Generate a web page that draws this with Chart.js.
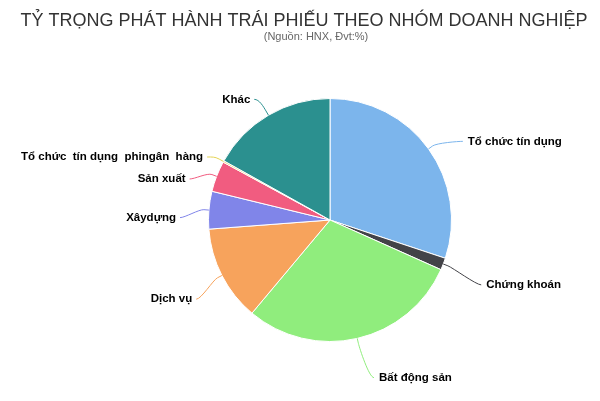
<!DOCTYPE html>
<html>
<head>
<meta charset="utf-8">
<script src="https://cdn.jsdelivr.net/npm/chart.js@4.4.1/dist/chart.umd.min.js"></script>
<style>
  html, body { margin: 0; padding: 0; background: #ffffff; }
  #wrap { position: relative; width: 600px; height: 401px; }
</style>
</head>
<body>
<div id="wrap"><canvas id="c"></canvas></div>
<script>
// ---- data ----
const titleText = "TỶ TRỌNG PHÁT HÀNH TRÁI PHIẾU THEO NHÓM DOANH NGHIỆP";
const subtitleText = "(Nguồn: HNX, Đvt:%)";
const categories = [
  "Tổ chức tín dụng",
  "Chứng khoán",
  "Bất động sản",
  "Dịch vụ",
  "Xâydựng",
  "Sản xuất",
  "Tổ chức  tín dụng  phingân  hàng",
  "Khác"
];
const shares = [30.1, 1.6, 29.4, 12.7, 5.0, 4.1, 0.2, 16.9];
const sliceColors = ["#7cb5ec", "#434348", "#90ed7d", "#f7a35c", "#8085e9", "#f15c80", "#e4d354", "#2b908f"];

// ---- outer labels with soft connectors (Highcharts-like) ----
const outerLabels = {
  id: 'outerLabels',
  afterDraw(chart) {
    const ctx = chart.ctx;
    const meta = chart.getDatasetMeta(0);
    const labelFont = 'bold 11.5px "Liberation Sans", Arial, sans-serif';
    const distance = 30;
    const items = meta.data.map((arc, i) => {
      const p = arc.getProps(['x', 'y', 'startAngle', 'endAngle', 'outerRadius'], true);
      const mid = (p.startAngle + p.endAngle) / 2;
      const cos = Math.cos(mid), sin = Math.sin(mid);
      const R = p.outerRadius + distance;
      const right = cos >= 0;
      return {
        i, p, cos, sin, right,
        nx: p.x + cos * R,
        y: p.y + sin * R + 10,
        edge: { x: p.x + cos * p.outerRadius, y: p.y + sin * p.outerRadius },
        brk: { x: p.x + cos * (p.outerRadius + 5), y: p.y + sin * (p.outerRadius + 5) }
      };
    });
    // simple downward push to avoid overlaps on each side
    [true, false].forEach(side => {
      const s = items.filter(it => it.right === side).sort((a, b) => a.y - b.y);
      for (let k = 1; k < s.length; k++) {
        if (s[k].y - s[k - 1].y < 22) s[k].y = s[k - 1].y + 22;
      }
    });
    ctx.save();
    ctx.font = labelFont;
    items.forEach(it => {
      const text = categories[it.i];
      const w = ctx.measureText(text).width;
      let connX, textX;
      if (it.right) {
        connX = it.nx + 10;
        textX = connX + 5;
      } else {
        connX = it.nx + 1;
        let textEnd = connX - 4;
        if (textEnd - w < 21) textEnd = 21 + w;
        connX = Math.max(connX, textEnd + 4);
        textX = textEnd - w;
      }
      // connector
      ctx.beginPath();
      ctx.strokeStyle = sliceColors[it.i];
      ctx.lineWidth = 1;
      ctx.moveTo(connX, it.y);
      ctx.bezierCurveTo(connX + (it.right ? -5 : 5), it.y,
        2 * it.brk.x - it.edge.x, 2 * it.brk.y - it.edge.y,
        it.brk.x, it.brk.y);
      ctx.lineTo(it.edge.x, it.edge.y);
      ctx.stroke();
      // text
      ctx.fillStyle = '#000000';
      ctx.textAlign = 'left';
      ctx.textBaseline = 'middle';
      ctx.lineWidth = 2;
      ctx.strokeStyle = 'rgba(255,255,255,0.8)';
      ctx.strokeText(text, textX, it.y);
      ctx.fillText(text, textX, it.y);
    });
    // titles
    ctx.textAlign = 'center';
    ctx.textBaseline = 'alphabetic';
    ctx.fillStyle = '#333333';
    ctx.font = '18px "Liberation Sans", Arial, sans-serif';
    ctx.fillText(titleText, 304, 26);
    ctx.fillStyle = '#666666';
    ctx.font = '11px "Liberation Sans", Arial, sans-serif';
    ctx.fillText(subtitleText, 316, 40);
    ctx.restore();
  }
};

new Chart(document.getElementById('c'), {
  type: 'pie',
  data: {
    labels: categories,
    datasets: [{
      data: shares,
      backgroundColor: sliceColors,
      borderColor: '#ffffff',
      borderWidth: 1,
      hoverOffset: 0
    }]
  },
  options: {
    responsive: true,
    maintainAspectRatio: false,
    animation: false,
    layout: { padding: { left: 208, right: 148, top: 98, bottom: 59 } },
    plugins: {
      legend: { display: false },
      tooltip: { enabled: false },
      title: { display: false }
    }
  },
  plugins: [outerLabels]
});
</script>
</body>
</html>
